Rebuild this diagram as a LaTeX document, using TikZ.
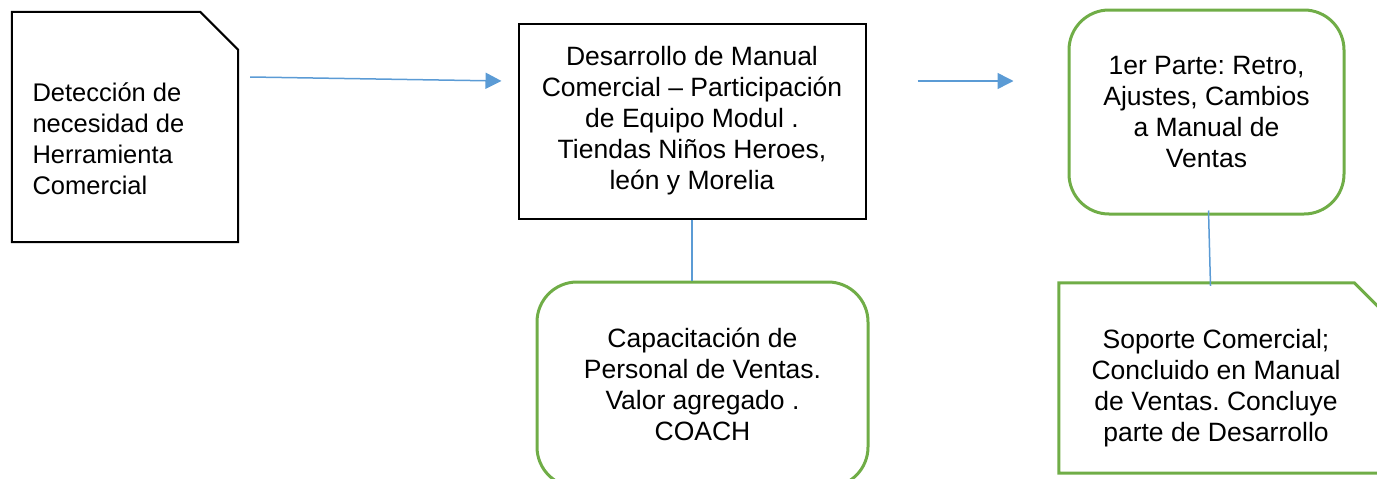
\documentclass[tikz,border=0pt]{standalone}
\usepackage{xcolor}
\usepackage{fontspec}
\setmainfont{Liberation Sans}
\usepackage{tikz}
\usetikzlibrary{arrows.meta}
\frenchspacing

\definecolor{azul}{HTML}{5B9BD5}
\definecolor{verde}{HTML}{70AD47}

\tikzset{
  caja/.style={draw=black,line width=2pt,rectangle},
  cajaverde/.style={draw=verde,line width=3pt,rectangle,rounded corners=40pt},
  marco/.style={rectangle,inner sep=0pt},
  texto/.style={align=center,font=\fontsize{26.5}{31}\selectfont},
  flecha/.style={draw=azul,line width=1.5pt,-{Triangle[length=16pt,width=16pt]}},
  linea/.style={draw=azul,line width=1.5pt}
}

\begin{document}
\begin{tikzpicture}[x=1pt,y=-1pt]
\useasboundingbox (0,0) rectangle (1377,479);
%Cajas
\node[marco,minimum width=226pt,minimum height=230pt] (det) at (125,127) {};
\draw[black,line width=2pt] (det.north west) -- ([xshift=-38pt]det.north east)
  -- ([yshift=-38pt]det.north east) -- (det.south east) -- (det.south west) -- cycle;
\node[caja,texto,minimum width=347pt,minimum height=195pt] (dev) at (692,121)
  {Desarrollo de Manual\\Comercial -- Participación\\de Equipo Modul .\\Tiendas Niños Heroes,\\león y Morelia};
\node[cajaverde,texto,minimum width=275pt,minimum height=204pt] (retro) at (1206.5,112)
  {1er Parte: Retro,\\Ajustes, Cambios\\a Manual de\\Ventas};
\node[cajaverde,texto,minimum width=331pt,minimum height=205pt] (coach) at (702.5,384.5)
  {Capacitación de\\Personal de Ventas.\\Valor agregado .\\COACH};
\node[marco,minimum width=340pt,minimum height=190pt] (soporte) at (1229,378) {};
\draw[verde,line width=3pt] (soporte.north west) -- ([xshift=-45pt]soporte.north east)
  -- ([yshift=-45pt]soporte.north east) -- (soporte.south east) -- (soporte.south west) -- cycle;
%Texto
\node[texto,font=\fontsize{25.5}{31}\selectfont,align=left,anchor=west] (detT) at (29,139)
  {Detección de\\necesidad de\\Herramienta\\Comercial};
\node[texto] (soporteT) at (1216,388)
  {Soporte Comercial;\\Concluido en Manual\\de Ventas. Concluye\\parte de Desarrollo};
%Conectores
\draw[flecha] ([xshift=12pt,yshift=50pt]det.east) -- ([xshift=-16pt,yshift=40pt]dev.west);
\draw[flecha] ([xshift=51pt,yshift=40pt]dev.east) -- ([xshift=-54pt,yshift=31pt]retro.west);
\draw[linea] (dev.south) -- (dev.south |- coach.north);
\draw[linea] ([xshift=2pt,yshift=5pt]retro.south) -- ([xshift=4pt,yshift=-3pt]retro.south |- soporte.north);
\end{tikzpicture}
\end{document}
